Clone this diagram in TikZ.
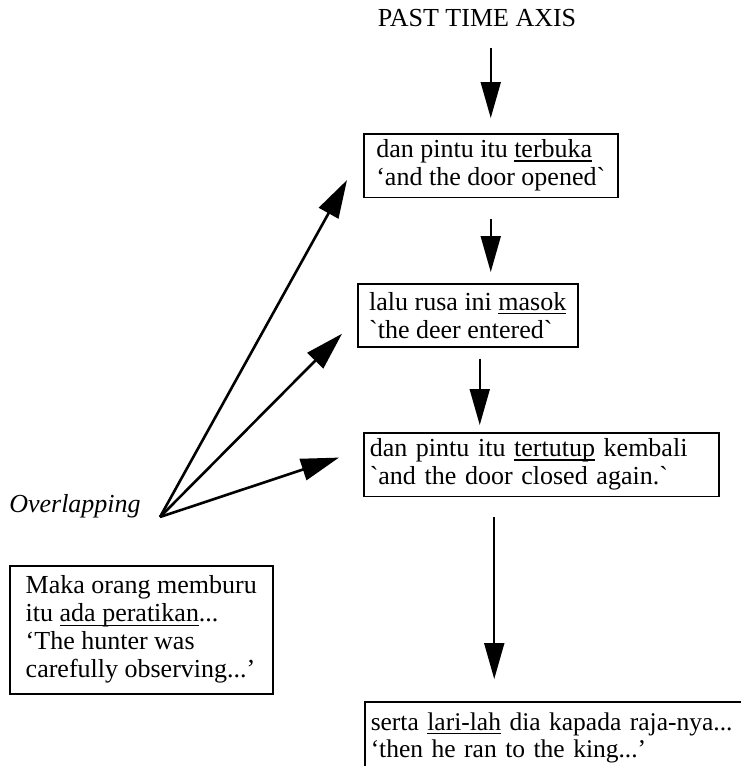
\documentclass[tikz,border=0pt]{standalone}
\usepackage{fontspec}
\setmainfont{Liberation Serif}
\usetikzlibrary{arrows.meta, positioning}

% underlined words
\newsavebox{\uwbox}
\newcommand{\uword}[1]{\sbox{\uwbox}{#1}\leavevmode\rlap{\rule[-4pt]{\wd\uwbox}{1.3pt}}\usebox{\uwbox}}

\begin{document}
\begin{tikzpicture}[
    x=1pt, y=-1pt,
    font=\fontsize{26}{28}\selectfont,
    event/.style={draw, line width=1.5pt, anchor=north west, align=left, inner xsep=6pt, inner ysep=6pt},
    arrow/.style={-{Triangle[length=36pt, width=20pt]}, line width=2pt},
    fan/.style={-{Triangle[length=38pt, width=22pt]}, line width=2.6pt}
]
\useasboundingbox (0,0) rectangle (741,766);

\node[inner sep=2pt] (title) at (477,18) {PAST TIME AXIS};
\node[event, minimum width=254pt, minimum height=61pt] (opened) at (363,133) {dan pintu itu \uword{terbuka}\\‘and the door opened\textasciigrave};
\node[event, minimum width=220pt, minimum height=63pt] (entered) at (357,283) {lalu rusa ini \uword{masok}\\\textasciigrave the deer entered\textasciigrave};
\node[event, text width=343pt, minimum height=60pt] (closed) at (363,432) {dan pintu itu \uword{tertutup} kembali\\\textasciigrave and the door closed again.\textasciigrave};
\node[event, text width=420pt, minimum height=72pt, font=\fontsize{25.5}{27}\selectfont] (ran) at (364,701) {serta \uword{lari-lah} dia kapada raja-nya...\\‘then he ran to the king...’};

% Left side
\node[font=\fontsize{26}{28}\selectfont\itshape] (overlap) at (75,506) {Overlapping};
\node[event, minimum width=263pt, minimum height=128pt] (hunter) at (9,565) {Maka orang memburu\\itu \uword{ada peratikan}...\\‘The hunter was\\carefully observing...’};
\coordinate (fanpt) at (160,517);

% Arrows
\draw[arrow, shorten <=19pt, shorten >=15pt] (title.south -| opened.north) -- (opened.north);
\draw[arrow, shorten <=21pt, shorten >=11pt] (opened.south) -- (opened.south |- entered.north);
\draw[arrow, shorten <=11pt, shorten >=7pt] ([xshift=12pt]entered.south) -- ([xshift=12pt]entered.south |- closed.north);
\draw[arrow, shorten <=20pt, shorten >=22pt] ([xshift=-47pt]closed.south) -- ([xshift=-47pt]closed.south |- ran.north);
\draw[fan] (fanpt) -- ([xshift=-16pt, yshift=-14.5pt]opened.west);
\draw[fan] (fanpt) -- ([xshift=-15pt, yshift=-18.5pt]entered.west);
\draw[fan] (fanpt) -- ([xshift=-24pt, yshift=7pt]closed.west);

\end{tikzpicture}
\end{document}
